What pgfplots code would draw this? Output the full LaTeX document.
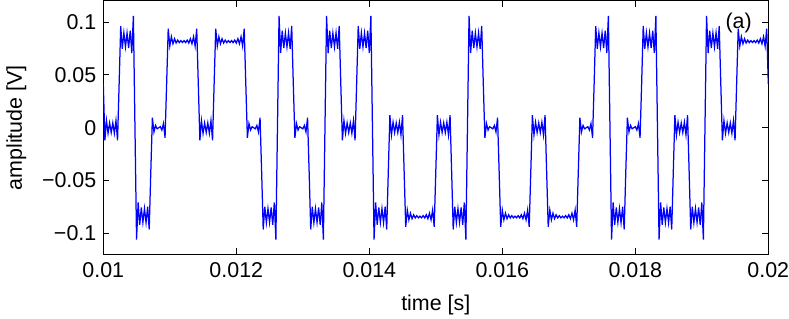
\documentclass[border=0pt]{standalone}
\usepackage{fontspec}
\setmainfont{Liberation Sans}
\usepackage{pgfplots}
\pgfplotsset{compat=1.18}
\begin{document}
\begin{tikzpicture}
% fixed page: 789 x 318 bp, axis box starts at (0,0)
\path[use as bounding box] (-103.3bp,-64bp) rectangle (685.7bp,254.5bp);
\begin{axis}[
  scale only axis,
  width=665bp, height=253.5bp,
  xmin=0, xmax=42, ymin=-0.12, ymax=0.12,
  % x is in symbol periods (42 symbols per 0.01 s)
  xtick={0,8.4,16.8,25.2,33.6,42},
  xticklabels={0.01,0.012,0.014,0.016,0.018,0.02},
  ytick={-0.1,-0.05,0,0.05,0.1},
  yticklabels={−0.1,−0.05,0,0.05,0.1},
  tick align=inside, tick pos=both,
  major tick length=6bp,
  axis line style={line width=1bp},
  every tick/.style={black, line width=1bp},
  tick label style={font=\fontsize{21.5}{25}\selectfont},
  xticklabel style={yshift=-5bp},
  yticklabel style={xshift=-3.5bp},
  label style={font=\fontsize{21.5}{25}\selectfont},
  xlabel={time [s]},
  ylabel={amplitude [V]},
  xlabel style={at={(axis description cs:0.5,-0.201)}, anchor=center},
  ylabel style={at={(axis description cs:-0.1308,0.5)}, anchor=center},
]
\addplot[blue, line width=1.25bp] coordinates {
(0,0.0415) (0.1,-0.0120) (0.2,0.0068) (0.3,-0.0053) (0.4,0.0046) (0.5,-0.0045) (0.6,0.0046) (0.7,-0.0053) (0.8,0.0068) (0.9,-0.0120)
(1,0.0415) (1.1,0.0963) (1.2,0.0748) (1.3,0.0899) (1.4,0.0765) (1.5,0.0897) (1.6,0.0755) (1.7,0.0920) (1.8,0.0708) (1.9,0.1058)
(2,0) (2.1,-0.1058) (2.2,-0.0708) (2.3,-0.0920) (2.4,-0.0755) (2.5,-0.0897) (2.6,-0.0765) (2.7,-0.0899) (2.8,-0.0748) (2.9,-0.0963)
(3,-0.0415) (3.1,0.0095) (3.2,-0.0040) (3.3,0.0022) (3.4,-0.0010) (3.5,0) (3.6,0.0010) (3.7,-0.0022) (3.8,0.0040) (3.9,-0.0095)
(4,0.0415) (4.1,0.0938) (4.2,0.0773) (4.3,0.0862) (4.4,0.0795) (4.5,0.0843) (4.6,0.0802) (4.7,0.0830) (4.8,0.0806) (4.9,0.0825) (5,0.0807) (5.1,0.0825) (5.2,0.0806) (5.3,0.0830) (5.4,0.0802) (5.5,0.0843) (5.6,0.0795) (5.7,0.0862) (5.8,0.0773) (5.9,0.0938)
(6,0.0415) (6.1,-0.0120) (6.2,0.0068) (6.3,-0.0053) (6.4,0.0046) (6.5,-0.0045) (6.6,0.0046) (6.7,-0.0053) (6.8,0.0068) (6.9,-0.0120)
(7,0.0415) (7.1,0.0938) (7.2,0.0773) (7.3,0.0862) (7.4,0.0795) (7.5,0.0843) (7.6,0.0802) (7.7,0.0830) (7.8,0.0806) (7.9,0.0825) (8,0.0807) (8.1,0.0825) (8.2,0.0806) (8.3,0.0830) (8.4,0.0802) (8.5,0.0843) (8.6,0.0795) (8.7,0.0862) (8.8,0.0773) (8.9,0.0938)
(9,0.0415) (9.1,-0.0095) (9.2,0.0040) (9.3,-0.0022) (9.4,0.0010) (9.5,0) (9.6,-0.0010) (9.7,0.0022) (9.8,-0.0040) (9.9,0.0095)
(10,-0.0415) (10.1,-0.0963) (10.2,-0.0748) (10.3,-0.0899) (10.4,-0.0765) (10.5,-0.0897) (10.6,-0.0755) (10.7,-0.0920) (10.8,-0.0708) (10.9,-0.1058)
(11,0) (11.1,0.1058) (11.2,0.0708) (11.3,0.0920) (11.4,0.0755) (11.5,0.0897) (11.6,0.0765) (11.7,0.0899) (11.8,0.0748) (11.9,0.0963)
(12,0.0415) (12.1,-0.0095) (12.2,0.0040) (12.3,-0.0022) (12.4,0.0010) (12.5,0) (12.6,-0.0010) (12.7,0.0022) (12.8,-0.0040) (12.9,0.0095)
(13,-0.0415) (13.1,-0.0963) (13.2,-0.0748) (13.3,-0.0899) (13.4,-0.0765) (13.5,-0.0897) (13.6,-0.0755) (13.7,-0.0920) (13.8,-0.0708) (13.9,-0.1058)
(14,0) (14.1,0.1058) (14.2,0.0708) (14.3,0.0920) (14.4,0.0755) (14.5,0.0897) (14.6,0.0765) (14.7,0.0899) (14.8,0.0748) (14.9,0.0963)
(15,0.0415) (15.1,-0.0120) (15.2,0.0068) (15.3,-0.0053) (15.4,0.0046) (15.5,-0.0045) (15.6,0.0046) (15.7,-0.0053) (15.8,0.0068) (15.9,-0.0120)
(16,0.0415) (16.1,0.0963) (16.2,0.0748) (16.3,0.0899) (16.4,0.0765) (16.5,0.0897) (16.6,0.0755) (16.7,0.0920) (16.8,0.0708) (16.9,0.1058)
(17,0) (17.1,-0.1058) (17.2,-0.0708) (17.3,-0.0920) (17.4,-0.0755) (17.5,-0.0897) (17.6,-0.0765) (17.7,-0.0899) (17.8,-0.0748) (17.9,-0.0963)
(18,-0.0415) (18.1,0.0120) (18.2,-0.0068) (18.3,0.0053) (18.4,-0.0046) (18.5,0.0045) (18.6,-0.0046) (18.7,0.0053) (18.8,-0.0068) (18.9,0.0120)
(19,-0.0415) (19.1,-0.0938) (19.2,-0.0779) (19.3,-0.0872) (19.4,-0.0809) (19.5,-0.0861) (19.6,-0.0824) (19.7,-0.0854) (19.8,-0.0832) (19.9,-0.0853) (20,-0.0837) (20.1,-0.0853) (20.2,-0.0832) (20.3,-0.0854) (20.4,-0.0824) (20.5,-0.0861) (20.6,-0.0809) (20.7,-0.0872) (20.8,-0.0779) (20.9,-0.0938)
(21,-0.0415) (21.1,0.0120) (21.2,-0.0068) (21.3,0.0053) (21.4,-0.0046) (21.5,0.0045) (21.6,-0.0046) (21.7,0.0053) (21.8,-0.0068) (21.9,0.0120)
(22,-0.0415) (22.1,-0.0963) (22.2,-0.0748) (22.3,-0.0899) (22.4,-0.0765) (22.5,-0.0897) (22.6,-0.0755) (22.7,-0.0920) (22.8,-0.0708) (22.9,-0.1058)
(23,0) (23.1,0.1058) (23.2,0.0708) (23.3,0.0920) (23.4,0.0755) (23.5,0.0897) (23.6,0.0765) (23.7,0.0899) (23.8,0.0748) (23.9,0.0963)
(24,0.0415) (24.1,-0.0095) (24.2,0.0040) (24.3,-0.0022) (24.4,0.0010) (24.5,0) (24.6,-0.0010) (24.7,0.0022) (24.8,-0.0040) (24.9,0.0095)
(25,-0.0415) (25.1,-0.0938) (25.2,-0.0779) (25.3,-0.0872) (25.4,-0.0809) (25.5,-0.0861) (25.6,-0.0824) (25.7,-0.0854) (25.8,-0.0832) (25.9,-0.0853) (26,-0.0837) (26.1,-0.0853) (26.2,-0.0832) (26.3,-0.0854) (26.4,-0.0824) (26.5,-0.0861) (26.6,-0.0809) (26.7,-0.0872) (26.8,-0.0779) (26.9,-0.0938)
(27,-0.0415) (27.1,0.0120) (27.2,-0.0068) (27.3,0.0053) (27.4,-0.0046) (27.5,0.0045) (27.6,-0.0046) (27.7,0.0053) (27.8,-0.0068) (27.9,0.0120)
(28,-0.0415) (28.1,-0.0938) (28.2,-0.0779) (28.3,-0.0872) (28.4,-0.0809) (28.5,-0.0861) (28.6,-0.0824) (28.7,-0.0854) (28.8,-0.0832) (28.9,-0.0853) (29,-0.0837) (29.1,-0.0853) (29.2,-0.0832) (29.3,-0.0854) (29.4,-0.0824) (29.5,-0.0861) (29.6,-0.0809) (29.7,-0.0872) (29.8,-0.0779) (29.9,-0.0938)
(30,-0.0415) (30.1,0.0095) (30.2,-0.0040) (30.3,0.0022) (30.4,-0.0010) (30.5,0) (30.6,0.0010) (30.7,-0.0022) (30.8,0.0040) (30.9,-0.0095)
(31,0.0415) (31.1,0.0963) (31.2,0.0748) (31.3,0.0899) (31.4,0.0765) (31.5,0.0897) (31.6,0.0755) (31.7,0.0920) (31.8,0.0708) (31.9,0.1058)
(32,0) (32.1,-0.1058) (32.2,-0.0708) (32.3,-0.0920) (32.4,-0.0755) (32.5,-0.0897) (32.6,-0.0765) (32.7,-0.0899) (32.8,-0.0748) (32.9,-0.0963)
(33,-0.0415) (33.1,0.0095) (33.2,-0.0040) (33.3,0.0022) (33.4,-0.0010) (33.5,0) (33.6,0.0010) (33.7,-0.0022) (33.8,0.0040) (33.9,-0.0095)
(34,0.0415) (34.1,0.0963) (34.2,0.0748) (34.3,0.0899) (34.4,0.0765) (34.5,0.0897) (34.6,0.0755) (34.7,0.0920) (34.8,0.0708) (34.9,0.1058)
(35,0) (35.1,-0.1058) (35.2,-0.0708) (35.3,-0.0920) (35.4,-0.0755) (35.5,-0.0897) (35.6,-0.0765) (35.7,-0.0899) (35.8,-0.0748) (35.9,-0.0963)
(36,-0.0415) (36.1,0.0120) (36.2,-0.0068) (36.3,0.0053) (36.4,-0.0046) (36.5,0.0045) (36.6,-0.0046) (36.7,0.0053) (36.8,-0.0068) (36.9,0.0120)
(37,-0.0415) (37.1,-0.0963) (37.2,-0.0748) (37.3,-0.0899) (37.4,-0.0765) (37.5,-0.0897) (37.6,-0.0755) (37.7,-0.0920) (37.8,-0.0708) (37.9,-0.1058)
(38,0) (38.1,0.1058) (38.2,0.0708) (38.3,0.0920) (38.4,0.0755) (38.5,0.0897) (38.6,0.0765) (38.7,0.0899) (38.8,0.0748) (38.9,0.0963)
(39,0.0415) (39.1,-0.0120) (39.2,0.0068) (39.3,-0.0053) (39.4,0.0046) (39.5,-0.0045) (39.6,0.0046) (39.7,-0.0053) (39.8,0.0068) (39.9,-0.0120)
(40,0.0415) (40.1,0.0938) (40.2,0.0773) (40.3,0.0862) (40.4,0.0795) (40.5,0.0843) (40.6,0.0802) (40.7,0.0830) (40.8,0.0806) (40.9,0.0825) (41,0.0807) (41.1,0.0825) (41.2,0.0806) (41.3,0.0830) (41.4,0.0802) (41.5,0.0843) (41.6,0.0795) (41.7,0.0862) (41.8,0.0773) (41.9,0.0938)
(42,0.0415)
};
\node[font=\fontsize{21.5}{25}\selectfont] at (axis cs:40.13,0.0988) {(a)};
\end{axis}
\end{tikzpicture}
\end{document}
